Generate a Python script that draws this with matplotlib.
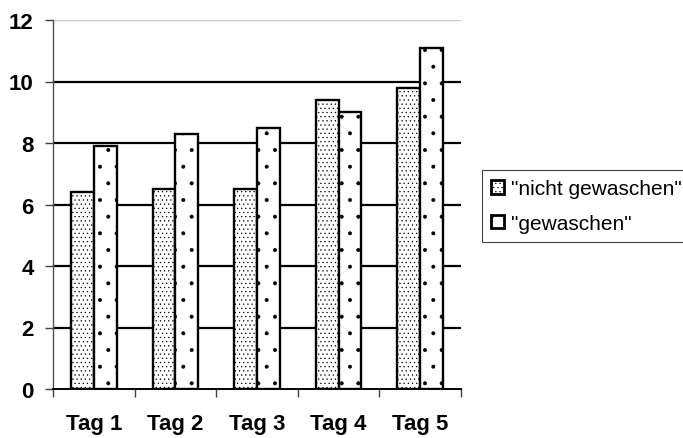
import matplotlib.pyplot as plt
import numpy as np

# Messwerte pro Tag
tage = ["Tag 1", "Tag 2", "Tag 3", "Tag 4", "Tag 5"]
nicht_gewaschen = [6.4, 6.5, 6.5, 9.4, 9.8]
gewaschen = [7.9, 8.3, 8.5, 9.0, 11.1]

plt.rcParams['font.family'] = ['Liberation Sans', 'DejaVu Sans']
plt.rcParams['hatch.linewidth'] = 0.4

fig = plt.figure(figsize=(6.83, 4.39), dpi=100)
ax = fig.add_axes([53/683, 49/439, 408/683, 369/439])

x = np.arange(len(tage))
w = 0.28

ax.bar(x - w/2, nicht_gewaschen, w, color='white', edgecolor='black',
       linewidth=1.7, hatch='....', label='"nicht gewaschen"', zorder=3)
ax.bar(x + w/2, gewaschen, w, color='white', edgecolor='black',
       linewidth=1.7, hatch='.', label='"gewaschen"', zorder=3)

# Gitterlinien
for yv in [2, 4, 6, 8, 10]:
    ax.axhline(yv, color='black', linewidth=1.6, zorder=1)
ax.axhline(12, color='#c8c8c8', linewidth=1.0, zorder=1)

ax.set_xlim(-0.5, 4.5)
ax.set_ylim(0, 12)
ax.set_yticks([0, 2, 4, 6, 8, 10, 12])
ax.set_xticks(x)
ax.set_xticklabels(tage, fontsize=16, fontweight='bold')
ax.set_xticks(np.arange(-0.5, 5, 1), minor=True)
ax.tick_params(axis='x', which='major', length=0, pad=17)
ax.tick_params(axis='x', which='minor', length=6, width=1.0, color='#404040')
ax.tick_params(axis='y', length=6, width=1.0, color='#404040', pad=8)
for lab in ax.get_yticklabels():
    lab.set_fontsize(16)
    lab.set_fontweight('bold')

ax.spines['top'].set_visible(False)
ax.spines['right'].set_visible(False)
ax.spines['left'].set_color('#505050')
ax.spines['left'].set_linewidth(1.0)
ax.spines['bottom'].set_color('black')
ax.spines['bottom'].set_linewidth(1.4)

leg = fig.legend(loc='upper left', bbox_to_anchor=(482/683, 1 - 171/439),
                 fontsize=15, frameon=True, fancybox=False, framealpha=1,
                 edgecolor='#404040', handlelength=0.6, handleheight=0.6,
                 handletextpad=0.35, borderpad=0.45, labelspacing=0.75,
                 borderaxespad=0)
leg.get_frame().set_linewidth(0.8)
for h in leg.legend_handles:
    h.set_linewidth(2.0)

plt.savefig('out.png', dpi=100)
